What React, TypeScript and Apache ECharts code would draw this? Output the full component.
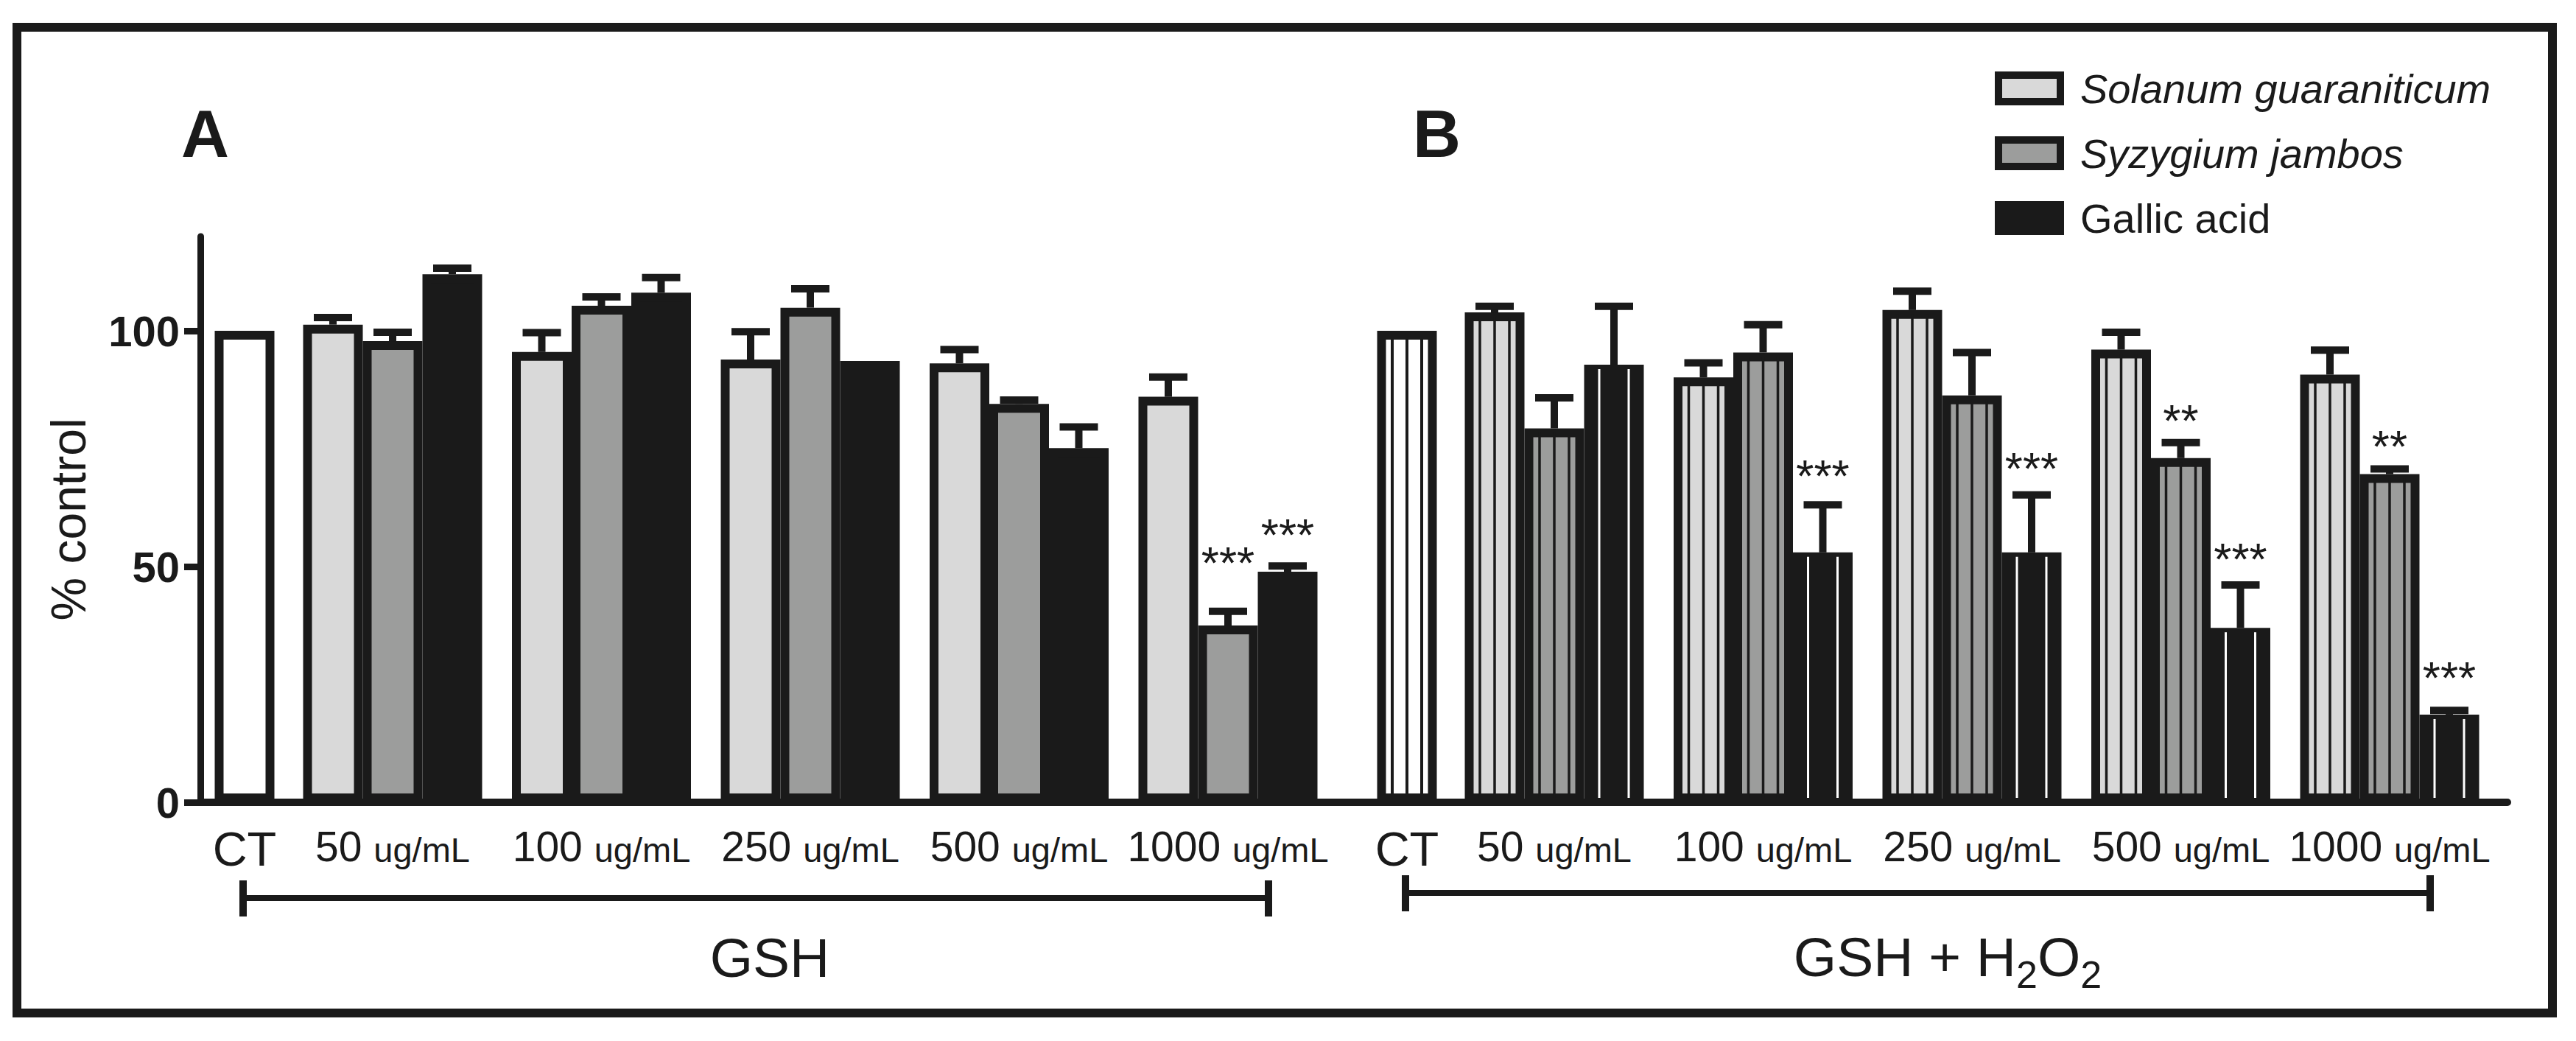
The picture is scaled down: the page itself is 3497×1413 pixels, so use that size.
import React, { useEffect, useRef } from 'react';
import * as echarts from 'echarts';

// ---------- data ----------
const seriesNames = ['Solanum guaraniticum', 'Syzygium jambos', 'Gallic acid'];
const ctCategory = ['CT'];
const concentrations = ['50', '100', '250', '500', '1000'];
const unitLabel = 'ug/mL';
const yTicks = [0, 50, 100];
const controlValue = [100];

// Panel A: GSH
const gshSolanum = [101.3, 95.5, 93.9, 93.1, 86.0];
const gshSolanumErr = [1.5, 4.1, 5.9, 2.9, 4.2];
const gshSyzygium = [97.8, 105.3, 104.9, 84.5, 37.5];
const gshSyzygiumErr = [1.9, 1.9, 4.0, 0.8, 3.0];
const gshGallic = [112.0, 108.1, 93.6, 75.1, 48.9];
const gshGallicErr = [1.3, 3.2, 0, 4.5, 1.2];
const gshSyzygiumStars = ['', '', '', '', '***'];
const gshSyzygiumStarY = [-1, -1, -1, -1, 53];
const gshGallicStars = ['', '', '', '', '***'];
const gshGallicStarY = [-1, -1, -1, -1, 59];

// Panel B: GSH + H2O2
const h2o2Solanum = [103.9, 90.1, 104.4, 96.0, 90.7];
const h2o2SolanumErr = [1.3, 3.1, 4.0, 3.7, 5.2];
const h2o2Syzygium = [79.3, 95.4, 86.3, 73.0, 69.6];
const h2o2SyzygiumErr = [6.5, 5.9, 9.1, 3.3, 1.1];
const h2o2Gallic = [92.8, 53.0, 53.0, 37.0, 18.6];
const h2o2GallicErr = [12.4, 10.1, 12.2, 9.1, 0.9];
const h2o2SyzygiumStars = ['', '', '', '**', '**'];
const h2o2SyzygiumStarY = [-1, -1, -1, 83.1, 77.7];
const h2o2GallicStars = ['', '***', '***', '***', '***'];
const h2o2GallicStarY = [-1, 71.4, 73, 53.8, 28.6];

// ---------- style / layout ----------
const FONT = 'Arial, "Liberation Sans", Helvetica, sans-serif';
const INK = '#1a1a1a';
const FILLS = ['#d9d9d9', '#9c9d9c', INK];
const W = 3497;
const H = 1413;
const ZERO_Y = 1089;
const UNIT_PX = 6.4;
const Y_MAX = 120;
const GRID_TOP = ZERO_Y - Y_MAX * UNIT_PX;
const GRID_H = Y_MAX * UNIT_PX;
const BAR_W = 81;
const BORDER = 12;
const BAND = 283.5;
const CT_BAND = 120;
const STAR_FS = 62;
const A_AXIS_X = 272;
const A_CT = 332;
const A_GROUP0 = 533;
const B_CT = 1910;
const B_GROUP0 = 2110;
const BASE_END = 3404;

const yAxisHidden = (gridIndex: number) => ({
  gridIndex, type: 'value', min: 0, max: Y_MAX, show: false,
});

const catAxis = (gridIndex: number, data: string[], isCT: boolean) => ({
  gridIndex,
  type: 'category',
  data,
  axisLine: { show: false },
  axisTick: { show: false },
  splitLine: { show: false },
  axisLabel: {
    interval: 0,
    margin: 31,
    color: INK,
    fontFamily: FONT,
    formatter: (v: string) => (isCT ? `{ct|${v}}` : `{n|${v} }{u|${unitLabel}}`),
    rich: {
      ct: { fontSize: 65, fontFamily: FONT, color: INK, lineHeight: 65 },
      n: { fontSize: 57, fontFamily: FONT, color: INK, lineHeight: 57 },
      u: { fontSize: 47, fontFamily: FONT, color: INK, lineHeight: 47, verticalAlign: 'bottom' },
    },
  },
});

type OverlayCfg = {
  offset: number;
  stripes?: number[];
  stripeColor?: string;
  stripeWidth?: number;
  stars?: string[];
};

function overlayRenderer(cfg: OverlayCfg) {
  return (params: any, api: any) => {
    const i = api.value(0);
    const v = api.value(1);
    const e = api.value(2);
    const sy = api.value(3);
    const base = api.coord([i, 0]);
    const top = api.coord([i, v]);
    const cx = base[0] + cfg.offset * BAR_W;
    const children: any[] = [];
    (cfg.stripes || []).forEach((dx) => {
      children.push({
        type: 'line',
        shape: { x1: cx + dx, y1: top[1] + BORDER / 2, x2: cx + dx, y2: base[1] - BORDER / 2 },
        style: { stroke: cfg.stripeColor, lineWidth: cfg.stripeWidth },
      });
    });
    if (e > 0) {
      const et = api.coord([i, v + e]);
      children.push({
        type: 'line',
        shape: { x1: cx, y1: top[1], x2: cx, y2: et[1] },
        style: { stroke: INK, lineWidth: 10 },
      });
      children.push({
        type: 'line',
        shape: { x1: cx - 26, y1: et[1], x2: cx + 26, y2: et[1] },
        style: { stroke: INK, lineWidth: 10 },
      });
    }
    const star = cfg.stars ? cfg.stars[params.dataIndex] : '';
    if (star && sy > 0) {
      const sp = api.coord([i, sy]);
      children.push({
        type: 'text',
        style: {
          text: star, x: cx, y: sp[1] + 0.22 * STAR_FS,
          fill: INK, fontSize: STAR_FS, fontFamily: FONT,
          align: 'center', verticalAlign: 'middle',
          textAlign: 'center', textVerticalAlign: 'middle',
        },
      });
    }
    return { type: 'group', children };
  };
}

const barSeries = (name: string, axis: number, data: number[], fill: string) => ({
  type: 'bar',
  name,
  xAxisIndex: axis,
  yAxisIndex: axis,
  data,
  barWidth: BAR_W,
  barGap: '0%',
  z: 2,
  itemStyle: { color: fill, borderColor: INK, borderWidth: BORDER },
});

const overlaySeries = (
  axis: number, vals: number[], errs: number[], starY: number[] | null, cfg: OverlayCfg,
) => ({
  type: 'custom',
  xAxisIndex: axis,
  yAxisIndex: axis,
  z: 4,
  clip: false,
  renderItem: overlayRenderer(cfg),
  data: vals.map((v, i) => [i, v, errs[i], starY ? starY[i] : -1]),
});

const darkStripes = { stripes: [-20, 0, 20], stripeColor: INK, stripeWidth: 3.5 };
const whiteStripes = { stripes: [-20, 20], stripeColor: '#ffffff', stripeWidth: 3 };

function buildOption() {
  const aLast = A_GROUP0 + 4 * BAND;
  const bLast = B_GROUP0 + 4 * BAND;
  const bracket = (x1: number, x2: number, y: number) => [
    { type: 'line', shape: { x1, y1: y, x2, y2: y }, style: { stroke: INK, lineWidth: 8 } },
    { type: 'line', shape: { x1, y1: y - 24, x2: x1, y2: y + 25 }, style: { stroke: INK, lineWidth: 10 } },
    { type: 'line', shape: { x1: x2, y1: y - 24, x2, y2: y + 25 }, style: { stroke: INK, lineWidth: 10 } },
  ];
  return {
    animation: false,
    backgroundColor: '#ffffff',
    textStyle: { fontFamily: FONT, color: INK },
    grid: [
      { left: A_AXIS_X, top: GRID_TOP, width: BASE_END - A_AXIS_X, height: GRID_H },
      { left: A_AXIS_X, top: GRID_TOP, width: CT_BAND, height: GRID_H },
      { left: A_GROUP0 - BAND / 2, top: GRID_TOP, width: BAND * 5, height: GRID_H },
      { left: B_CT - CT_BAND / 2, top: GRID_TOP, width: CT_BAND, height: GRID_H },
      { left: B_GROUP0 - BAND / 2, top: GRID_TOP, width: BAND * 5, height: GRID_H },
    ],
    xAxis: [
      {
        gridIndex: 0, type: 'value', min: 0, max: 1,
        axisLine: { show: true, onZero: false, lineStyle: { color: INK, width: 10 } },
        axisTick: { show: false }, axisLabel: { show: false }, splitLine: { show: false },
      },
      catAxis(1, ctCategory, true),
      catAxis(2, concentrations, false),
      catAxis(3, ctCategory, true),
      catAxis(4, concentrations, false),
    ],
    yAxis: [
      yAxisHidden(0),
      {
        gridIndex: 1, type: 'value', min: 0, max: Y_MAX,
        name: '% control', nameLocation: 'middle', nameGap: 146, nameRotate: 90,
        nameTextStyle: { fontSize: 66, fontFamily: FONT, color: INK },
        axisLine: { show: true, lineStyle: { color: INK, width: 9 } },
        axisTick: { show: true, length: 22, customValues: yTicks, lineStyle: { color: INK, width: 9 } },
        axisLabel: {
          customValues: yTicks, fontSize: 58, fontWeight: 'bold', fontFamily: FONT,
          color: INK, margin: 28,
        },
        splitLine: { show: false },
      },
      yAxisHidden(2),
      yAxisHidden(3),
      yAxisHidden(4),
    ],
    legend: {
      orient: 'vertical',
      left: 2708,
      top: 92,
      padding: 0,
      itemWidth: 84,
      itemHeight: 36,
      itemGap: 32,
      selectedMode: false,
      textStyle: { fontSize: 56, fontFamily: FONT, color: INK, lineHeight: 56, padding: [0, 0, 0, 22] },
      data: seriesNames.map((n, i) => ({
        name: n,
        icon: 'rect',
        itemStyle: { color: FILLS[i], borderColor: INK, borderWidth: 10 },
        textStyle: { fontStyle: i < 2 ? 'italic' : 'normal' },
      })),
    },
    graphic: [
      {
        type: 'rect', z: 100,
        shape: { x: 23, y: 37, width: 3442, height: 1338 },
        style: { fill: 'transparent', stroke: INK, lineWidth: 12 },
      },
      ...bracket(A_CT - 2, aLast + 55, 1219),
      ...bracket(B_CT - 2, bLast + 55, 1212),
      {
        type: 'text',
        style: { text: 'A', x: 246, y: 137, fontSize: 90, fontWeight: 'bold', fontFamily: FONT, fill: INK, verticalAlign: 'top', textVerticalAlign: 'top' },
      },
      {
        type: 'text',
        style: { text: 'B', x: 1918, y: 137, fontSize: 90, fontWeight: 'bold', fontFamily: FONT, fill: INK, verticalAlign: 'top', textVerticalAlign: 'top' },
      },
      {
        type: 'text',
        style: {
          text: 'GSH', x: 1045, y: 1300, fontSize: 75, fontFamily: FONT, fill: INK,
          align: 'center', verticalAlign: 'middle', textAlign: 'center', textVerticalAlign: 'middle',
        },
      },
      {
        type: 'text',
        style: {
          text: '{m|GSH + H}{s|2}{m|O}{s|2}', x: 2644, y: 1305, fontFamily: FONT, fill: INK,
          align: 'center', verticalAlign: 'middle', textAlign: 'center', textVerticalAlign: 'middle',
          rich: {
            m: { fontSize: 75, lineHeight: 75, fontFamily: FONT, fill: INK, color: INK, verticalAlign: 'top' },
            s: { fontSize: 52, lineHeight: 87, fontFamily: FONT, fill: INK, color: INK, verticalAlign: 'bottom' },
          },
        },
      },
    ],
    series: [
      // Panel A
      barSeries('Control', 1, controlValue, '#ffffff'),
      barSeries(seriesNames[0], 2, gshSolanum, FILLS[0]),
      barSeries(seriesNames[1], 2, gshSyzygium, FILLS[1]),
      barSeries(seriesNames[2], 2, gshGallic, FILLS[2]),
      overlaySeries(2, gshSolanum, gshSolanumErr, null, { offset: -1 }),
      overlaySeries(2, gshSyzygium, gshSyzygiumErr, gshSyzygiumStarY, { offset: 0, stars: gshSyzygiumStars }),
      overlaySeries(2, gshGallic, gshGallicErr, gshGallicStarY, { offset: 1, stars: gshGallicStars }),
      // Panel B
      barSeries('Control + H2O2', 3, controlValue, '#ffffff'),
      overlaySeries(3, controlValue, [0], null, { offset: 0, stripes: [-20, 0, 20], stripeColor: INK, stripeWidth: 4 }),
      barSeries(seriesNames[0], 4, h2o2Solanum, FILLS[0]),
      barSeries(seriesNames[1], 4, h2o2Syzygium, FILLS[1]),
      barSeries(seriesNames[2], 4, h2o2Gallic, FILLS[2]),
      overlaySeries(4, h2o2Solanum, h2o2SolanumErr, null, { offset: -1, ...darkStripes }),
      overlaySeries(4, h2o2Syzygium, h2o2SyzygiumErr, h2o2SyzygiumStarY, { offset: 0, ...darkStripes, stars: h2o2SyzygiumStars }),
      overlaySeries(4, h2o2Gallic, h2o2GallicErr, h2o2GallicStarY, { offset: 1, ...whiteStripes, stars: h2o2GallicStars }),
    ],
  };
}

export default function App() {
  const ref = useRef<HTMLDivElement>(null);
  useEffect(() => {
    document.body.style.margin = '0';
    if (!ref.current) return;
    const chart = echarts.init(ref.current, null, { renderer: 'svg' });
    chart.setOption(buildOption() as any);
    return () => chart.dispose();
  }, []);
  return <div ref={ref} style={{ width: W, height: H, background: '#fff' }} />;
}
